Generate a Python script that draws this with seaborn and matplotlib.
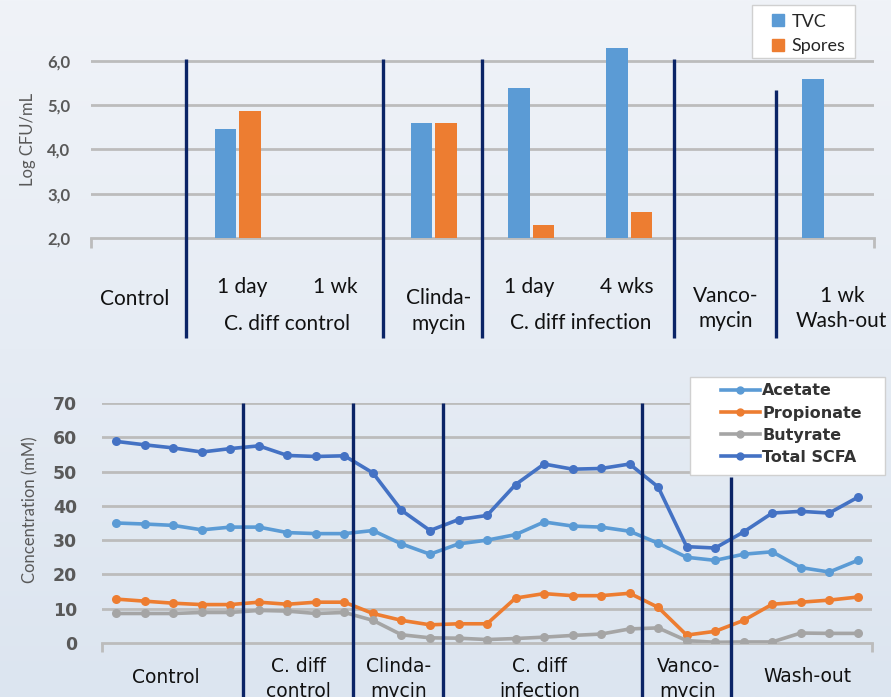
import numpy as np
import pandas as pd
import seaborn as sns
import matplotlib.pyplot as plt
from matplotlib.lines import Line2D
from matplotlib.patches import Patch, Rectangle
from matplotlib.colors import LinearSegmentedColormap

# ---- data: top chart (log CFU/mL) ----
stages = ['Control', 'CD 1 day', 'CD 1 wk', 'Clindamycin',
          'Inf 1 day', 'Inf 4 wks', 'Vancomycin', 'Wash-out 1 wk']
tvc = [2.0, 4.45, 2.0, 4.59, 5.39, 6.28, 2.0, 5.6]
spores = [2.0, 4.86, 2.0, 4.59, 2.29, 2.58, 2.0, 2.0]

# ---- data: bottom chart (SCFA, mM) ----
acetate = [35.0, 34.7, 34.3, 33.0, 33.8, 33.8, 32.2, 31.9, 31.9, 32.8, 28.9, 25.9,
           28.9, 30.0, 31.6, 35.3, 34.1, 33.8, 32.6, 29.1, 25.0, 24.1, 25.9, 26.6,
           22.0, 20.7, 24.1]
propionate = [12.8, 12.2, 11.6, 11.2, 11.2, 11.9, 11.3, 11.9, 11.9, 8.6, 6.6, 5.3,
              5.6, 5.6, 13.1, 14.4, 13.8, 13.8, 14.5, 10.4, 2.3, 3.4, 6.6, 11.3,
              11.9, 12.5, 13.4]
butyrate = [8.6, 8.6, 8.6, 8.9, 8.9, 9.5, 9.3, 8.6, 8.9, 6.6, 2.4, 1.5,
            1.4, 1.0, 1.3, 1.7, 2.2, 2.6, 4.1, 4.4, 0.7, 0.2, 0.3, 0.3,
            2.9, 2.8, 2.8]
total_scfa = [58.8, 57.8, 56.9, 55.7, 56.7, 57.5, 54.7, 54.4, 54.6, 49.6, 38.7, 32.8,
              36.0, 37.2, 46.2, 52.2, 50.7, 50.9, 52.2, 45.5, 28.1, 27.7, 32.4, 37.9,
              38.4, 37.9, 42.5]

blue = '#5B9BD5'
orange = '#ED7D31'
grey = '#A5A5A5'
dblue = '#4472C4'
navy = '#0B2466'
grid_c = '#BCBCBC'
tick_c = '#595959'

fig = plt.figure(figsize=(8.91, 6.97), dpi=100)

# background gradient
bg = fig.add_axes([0, 0, 1, 1], zorder=-10)
grad = np.linspace(0, 1, 256).reshape(-1, 1)
bg.imshow(grad, aspect='auto', extent=[0, 1, 0, 1], origin='lower',
          cmap=LinearSegmentedColormap.from_list('bgc', ['#DCE5F0', '#F0F3F8']))
bg.set_xlim(0, 1)
bg.set_ylim(0, 1)
bg.axis('off')

# ---------------- top chart ----------------
ax1 = fig.add_axes([0.102, 0.6585, 0.879, 0.2765])
ax1.patch.set_visible(False)
df_bar = pd.DataFrame({
    'stage': stages * 2,
    'value': tvc + spores,
    'series': ['TVC'] * len(stages) + ['Spores'] * len(stages),
})
sns.barplot(data=df_bar, x='stage', y='value', hue='series',
            palette={'TVC': blue, 'Spores': orange}, width=0.5, gap=0.12,
            saturation=1, ax=ax1, legend=False, zorder=11)
ax1.set_ylim(2.0, 6.35)
ax1.set_xlim(-0.5, len(stages) - 0.5)
ax1.set_yticks([2, 3, 4, 5, 6])
ax1.set_yticklabels(['2,0', '3,0', '4,0', '5,0', '6,0'],
                    fontsize=12, fontweight='bold', color=tick_c, family='Lato')
ax1.tick_params(axis='y', length=0, pad=15)
ax1.set_xticks([])
ax1.set_xlabel('')
ax1.set_ylabel('Log CFU/mL', fontsize=12, color=tick_c, family='Lato')
ax1.yaxis.set_label_coords(-0.070, 0.51)
for s in ['top', 'right', 'left']:
    ax1.spines[s].set_visible(False)
ax1.spines['bottom'].set_color(grid_c)
ax1.spines['bottom'].set_linewidth(2)
for yv in [3, 4, 5, 6]:
    ax1.axhline(yv, color=grid_c, lw=2, zorder=10)
ax1.vlines([-0.5, len(stages) - 0.5], 1.78, 2.0, color=grid_c, lw=2, clip_on=False)

# dividers (top)
ax1.vlines([0.47, 2.48, 3.5, 5.46], -0.26, 6.03, color=navy, lw=2.4,
           clip_on=False, zorder=12)
ax1.vlines([6.5], -0.26, 5.34, color=navy, lw=2.4, clip_on=False, zorder=12)

tr1 = ax1.get_xaxis_transform()
lab_kw = dict(transform=tr1, ha='center', va='center', fontsize=15,
              family='Lato', color='#111111', clip_on=False)
ax1.text(-0.05, -0.315, 'Control', **lab_kw)
ax1.text(1.05, -0.255, '1 day', **lab_kw)
ax1.text(2.0, -0.255, '1 wk', **lab_kw)
ax1.text(1.5, -0.445, 'C. diff control', **lab_kw)
ax1.text(3.05, -0.38, 'Clinda-\nmycin', linespacing=1.35, **lab_kw)
ax1.text(3.98, -0.255, '1 day', **lab_kw)
ax1.text(4.97, -0.255, '4 wks', **lab_kw)
ax1.text(4.5, -0.44, 'C. diff infection', **lab_kw)
ax1.text(5.98, -0.365, 'Vanco-\nmycin', linespacing=1.35, **lab_kw)
ax1.text(7.17, -0.365, '1 wk\nWash-out', linespacing=1.35, **lab_kw)

# top legend, frame drawn separately
fig.patches.append(Rectangle((752 / 891, 1 - 58 / 697), 103 / 891, 53 / 697,
                             transform=fig.transFigure, facecolor='white',
                             edgecolor='#D0D0D0', lw=1.0, zorder=5))
leg1 = fig.legend(handles=[Patch(color=blue, label='TVC'),
                           Patch(color=orange, label='Spores')],
                  loc='upper left', bbox_to_anchor=(0.850, 1.001),
                  prop={'family': 'Lato', 'size': 13}, frameon=False,
                  handlelength=0.65, handleheight=0.65, handletextpad=0.45,
                  borderpad=0.3, labelspacing=0.45, labelcolor='#262626')
leg1.set_zorder(6)

# ---------------- bottom chart ----------------
ax2 = fig.add_axes([0.1145, 0.0775, 0.8642, 0.3443])
ax2.patch.set_visible(False)
n = len(acetate)
names = ['Acetate', 'Propionate', 'Butyrate', 'Total SCFA']
df_line = pd.DataFrame({
    'sample': list(range(n)) * 4,
    'conc': acetate + propionate + butyrate + total_scfa,
    'acid': sum([[nm] * n for nm in names], []),
})
pal = {'Acetate': blue, 'Propionate': orange, 'Butyrate': grey, 'Total SCFA': dblue}
sns.lineplot(data=df_line, x='sample', y='conc', hue='acid', palette=pal,
             marker='o', markersize=6.5, markeredgewidth=0, linewidth=2.6,
             ax=ax2, legend=False, zorder=11)
ax2.set_xlim(-0.5, n - 0.5)
ax2.set_ylim(0, 70)
ax2.set_yticks(range(0, 71, 10))
ax2.set_yticklabels([str(v) for v in range(0, 71, 10)], fontsize=12.5,
                    fontweight='bold', color=tick_c)
ax2.tick_params(axis='y', length=0, pad=18)
ax2.set_xticks([])
ax2.set_xlabel('')
ax2.set_ylabel('Concentration (mM)', fontsize=12, color=tick_c, family='Lato')
ax2.yaxis.set_label_coords(-0.083, 0.555)
for s in ['top', 'right', 'left']:
    ax2.spines[s].set_visible(False)
ax2.spines['bottom'].set_color(grid_c)
ax2.spines['bottom'].set_linewidth(2)
for yv in range(10, 71, 10):
    ax2.axhline(yv, color=grid_c, lw=2, zorder=10)
ax2.vlines([-0.5, n - 0.5], -2.5, 0, color=grid_c, lw=2, clip_on=False)

ax2.vlines([4.45, 8.3, 11.45, 18.45], -16, 70, color=navy, lw=2.4,
           clip_on=False, zorder=12)
ax2.vlines([21.55], -16, 48.4, color=navy, lw=2.4, clip_on=False, zorder=12)

tr2 = ax2.get_xaxis_transform()
lab2 = dict(transform=tr2, ha='center', va='center', fontsize=13.5,
            color='#111111', clip_on=False, linespacing=1.4)
ax2.text(1.75, -0.145, 'Control', **lab2)
ax2.text(6.4, -0.15, 'C. diff\ncontrol', **lab2)
ax2.text(9.9, -0.15, 'Clinda-\nmycin', **lab2)
ax2.text(14.85, -0.15, 'C. diff\ninfection', **lab2)
ax2.text(20.05, -0.15, 'Vanco-\nmycin', **lab2)
ax2.text(24.25, -0.14, 'Wash-out', **lab2)

fig.patches.append(Rectangle((690 / 891, 1 - 475 / 697), 195 / 891, 98 / 697,
                             transform=fig.transFigure, facecolor='white',
                             edgecolor='#D0D0D0', lw=1.0, zorder=5))
handles2 = [Line2D([0], [0], color=pal[nm], lw=2.6, marker='o', markersize=5,
                   label=nm) for nm in names]
leg2 = fig.legend(handles=handles2, loc='upper left', bbox_to_anchor=(0.797, 0.466),
                  prop={'size': 11.5, 'weight': 'bold'}, frameon=False,
                  handlelength=2.4, handletextpad=0.15, borderpad=0.2,
                  labelspacing=0.45, labelcolor='#333333')
leg2.set_zorder(6)

fig.savefig('out.png', dpi=100)
